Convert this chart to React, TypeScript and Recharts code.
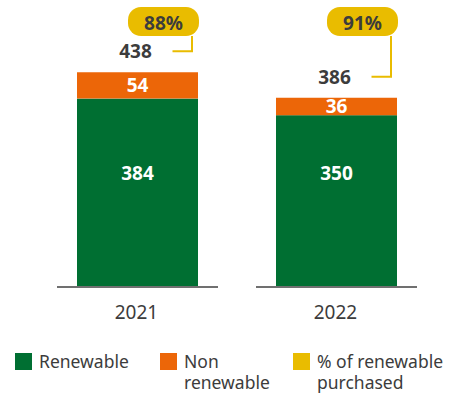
import React from 'react';
import { BarChart, Bar, XAxis, YAxis, LabelList } from 'recharts';

const years = ['2021', '2022'];
const renewable = [384, 350];
const nonRenewable = [54, 36];
const pctPurchased = [88, 91];

const legendNames = ['Renewable', 'Non\nrenewable', '% of renewable\npurchased'];

const GREEN = '#006f32';
const ORANGE = '#ec6608';
const YELLOW = '#e9bc00';
const TEXT = '#3c3c3c';
const FONT = '"Noto Sans", "Open Sans", sans-serif';

const data = years.map((year, i) => ({
  year,
  renewable: renewable[i],
  nonRenewable: nonRenewable[i],
  pct: pctPurchased[i],
  total: renewable[i] + nonRenewable[i],
}));

// green bar plus the short grey baseline under each column
const RenewableShape = (props: any) => {
  const { x, y, width, height } = props;
  const bottom = y + height;
  return (
    <g>
      <rect x={x} y={y} width={width} height={height} fill={GREEN} />
      <line x1={x - 20} x2={x + width + 20} y1={bottom + 1} y2={bottom + 1} stroke="#707070" strokeWidth={2} />
    </g>
  );
};

// renewable values sit at the same height in both columns
const RenewableLabel = (props: any) => {
  const { x, y, width, height, value } = props;
  return (
    <text x={x + width / 2} y={y + height - 113} textAnchor="middle" dominantBaseline="central" fill="#fff" fontSize={19} fontWeight={700} fontFamily={FONT}>
      {value}
    </text>
  );
};

// total above the column and the yellow % callout
const TotalCallout = (props: any) => {
  const { x, y, width, index } = props;
  const row = data[index];
  const cx = x + width / 2;
  const labelY = y - 21;
  const right = x + width;
  const pillW = 71;
  const pillH = 29;
  const pillY = 7;
  const stemX = right - 6;
  return (
    <g>
      <text x={cx - 2} y={labelY} textAnchor="middle" dominantBaseline="central" fill={TEXT} fontSize={19} fontWeight={700} fontFamily={FONT}>
        {row.total}
      </text>
      <polyline
        points={`${stemX},${pillY + pillH} ${stemX},${labelY} ${cx + 35},${labelY}`}
        fill="none"
        stroke={YELLOW}
        strokeWidth={2}
      />
      <rect x={right - pillW + 1} y={pillY} width={pillW} height={pillH} rx={13} fill={YELLOW} />
      <text x={right - pillW / 2 + 1} y={pillY + pillH / 2 + 1} textAnchor="middle" dominantBaseline="central" fill={TEXT} fontSize={19} fontWeight={700} fontFamily={FONT}>
        {`${row.pct}%`}
      </text>
    </g>
  );
};

const YearTick = (props: any) => {
  const { x, y, payload } = props;
  return (
    <text x={x - 1} y={y + 18} textAnchor="middle" dominantBaseline="central" fill={TEXT} fontSize={19} fontFamily={FONT}>
      {payload.value}
    </text>
  );
};

const legendColors = [GREEN, ORANGE, YELLOW];
const legendLeft = [15, 160, 293];

export default function App() {
  return (
    <div style={{ position: 'absolute', left: 0, top: 0, width: 450, height: 395, background: '#fff', fontFamily: FONT }}>
      <BarChart width={450} height={395} data={data} margin={{ top: 42, right: 14, left: 38, bottom: 0 }} barSize={121}>
        <XAxis dataKey="year" height={109} axisLine={false} tickLine={false} tick={<YearTick />} interval={0} />
        <YAxis hide domain={[0, 500]} />
        <Bar dataKey="renewable" stackId="a" fill={GREEN} shape={<RenewableShape />} isAnimationActive={false}>
          <LabelList dataKey="renewable" content={<RenewableLabel />} />
        </Bar>
        <Bar dataKey="nonRenewable" stackId="a" fill={ORANGE} isAnimationActive={false}>
          <LabelList dataKey="nonRenewable" position="center" fill="#fff" fontSize={19} fontWeight={700} fontFamily={FONT} />
          <LabelList dataKey="pct" content={<TotalCallout />} />
        </Bar>
      </BarChart>
      {legendNames.map((name, i) => (
        <div key={name} style={{ position: 'absolute', left: legendLeft[i], top: 353, display: 'flex', alignItems: 'flex-start' }}>
          <div style={{ width: 17, height: 17, background: legendColors[i], flexShrink: 0 }} />
          <div style={{ marginLeft: 7, marginTop: -2, fontSize: 17.5, lineHeight: '21px', color: TEXT, whiteSpace: 'pre' }}>{name}</div>
        </div>
      ))}
    </div>
  );
}
